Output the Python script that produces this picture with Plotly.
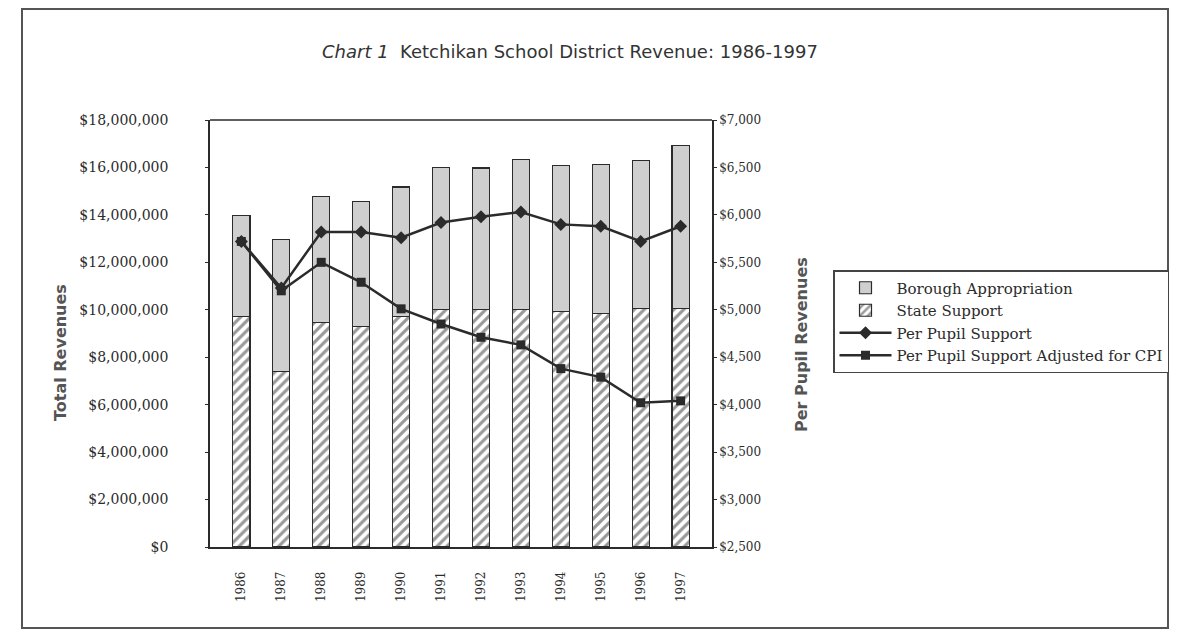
import plotly.graph_objects as go

years = ["1986", "1987", "1988", "1989", "1990", "1991", "1992", "1993", "1994", "1995", "1996", "1997"]
state_support = [9720000, 7400000, 9450000, 9290000, 9720000, 10000000, 10000000, 10000000, 9930000, 9860000, 10070000, 10070000]
total_revenue = [13960000, 12970000, 14790000, 14580000, 15180000, 16000000, 15980000, 16330000, 16090000, 16130000, 16300000, 16930000]
borough_appropriation = [t - s for t, s in zip(total_revenue, state_support)]
per_pupil = [5720, 5230, 5820, 5820, 5760, 5920, 5980, 6030, 5900, 5880, 5720, 5880]
per_pupil_cpi = [5720, 5200, 5500, 5290, 5010, 4850, 4710, 4630, 4380, 4290, 4020, 4040]

left_ticks = [0, 2e6, 4e6, 6e6, 8e6, 10e6, 12e6, 14e6, 16e6, 18e6]
left_labels = ["$0", "$2,000,000", "$4,000,000", "$6,000,000", "$8,000,000", "$10,000,000",
               "$12,000,000", "$14,000,000", "$16,000,000", "$18,000,000"]
right_ticks = [2500, 3000, 3500, 4000, 4500, 5000, 5500, 6000, 6500, 7000]
right_labels = ["$2,500", "$3,000", "$3,500", "$4,000", "$4,500", "$5,000", "$5,500", "$6,000", "$6,500", "$7,000"]

ink = "#2b2b2b"
serif = "DejaVu Serif, serif"
sans = "DejaVu Sans, sans-serif"

fig = go.Figure()
fig.add_trace(go.Bar(
    x=years, y=state_support, name="State Support", legendrank=2,
    marker=dict(color="white", line=dict(color=ink, width=1.2),
                pattern=dict(shape="/", fgcolor="#333333", bgcolor="white", size=7, solidity=0.45)),
))
fig.add_trace(go.Bar(
    x=years, y=borough_appropriation, name="Borough Appropriation", legendrank=1,
    marker=dict(color="#cfcfcf", line=dict(color=ink, width=1.2)),
))
fig.add_trace(go.Scatter(
    x=years, y=per_pupil, name="Per Pupil Support", yaxis="y2", mode="lines+markers", legendrank=3,
    line=dict(color=ink, width=2.5), marker=dict(symbol="diamond", size=10, color=ink),
))
fig.add_trace(go.Scatter(
    x=years, y=per_pupil_cpi, name="Per Pupil Support Adjusted for CPI", yaxis="y2", mode="lines+markers",
    legendrank=4,
    line=dict(color=ink, width=2.5), marker=dict(symbol="square", size=9, color=ink),
))

# page offset (browser body margin) compensation
OFF = 8
W, H = 1177, 634
L, R, T, B = 210, 712, 120, 547   # target screen coordinates of the plot area
pw, ph = R - L, B - T

def px(x):
    return (x - L) / pw

def py(y):
    return (B - y) / ph

fig.update_layout(
    width=W, height=H,
    margin=dict(l=L - OFF, r=W - (R - OFF), t=T - OFF, b=H - (B - OFF), pad=0),
    paper_bgcolor="white", plot_bgcolor="white",
    barmode="stack", bargap=0.57,
    showlegend=True,
    legend=dict(x=px(833), y=py(270), xanchor="left", yanchor="top", traceorder="normal",
                bordercolor="#444444", borderwidth=1.5, bgcolor="white",
                font=dict(family=serif, size=15, color=ink), tracegroupgap=0,
                itemwidth=52),
    xaxis=dict(type="category", tickangle=-90, showline=True, linecolor=ink, linewidth=1.5,
               mirror=False, ticks="", tickfont=dict(family=serif, size=12, color=ink), showgrid=False,
               ticklabelstandoff=18),
    yaxis=dict(range=[0, 18e6], tickvals=left_ticks, ticktext=left_labels, showline=True,
               linecolor=ink, linewidth=1.5, ticks="outside", ticklen=3, tickcolor=ink,
               tickfont=dict(family=serif, size=14, color=ink), showgrid=False, zeroline=False,
               ticklabelstandoff=34),
    yaxis2=dict(range=[2500, 7000], tickvals=right_ticks, ticktext=right_labels, overlaying="y",
                side="right", showline=True, linecolor=ink, linewidth=1.5, ticks="outside", ticklen=3,
                tickcolor=ink, tickfont=dict(family=serif, size=12, color=ink), showgrid=False,
                zeroline=False),
    shapes=[
        dict(type="line", xref="paper", yref="paper", x0=0, x1=1, y0=1, y1=1,
             line=dict(color=ink, width=1.5)),
        dict(type="rect", xref="paper", yref="paper", x0=px(22), x1=px(1168), y0=py(628), y1=py(9),
             line=dict(color="#555555", width=2)),
    ],
    annotations=[
        dict(text="<i>Chart 1</i>  Ketchikan School District Revenue: 1986-1997", xref="paper", yref="paper",
             x=px(570), y=py(51), showarrow=False, xanchor="center", yanchor="middle",
             font=dict(family=sans, size=18, color="#333333")),
        dict(text="<b>Total Revenues</b>", xref="paper", yref="paper", x=px(60), y=py(353), textangle=-90,
             showarrow=False, xanchor="center", yanchor="middle",
             font=dict(family=sans, size=16, color="#555555")),
        dict(text="<b>Per Pupil Revenues</b>", xref="paper", yref="paper", x=px(801), y=py(345), textangle=-90,
             showarrow=False, xanchor="center", yanchor="middle",
             font=dict(family=sans, size=16, color="#555555")),
    ],
)

fig.write_html("out.html")
